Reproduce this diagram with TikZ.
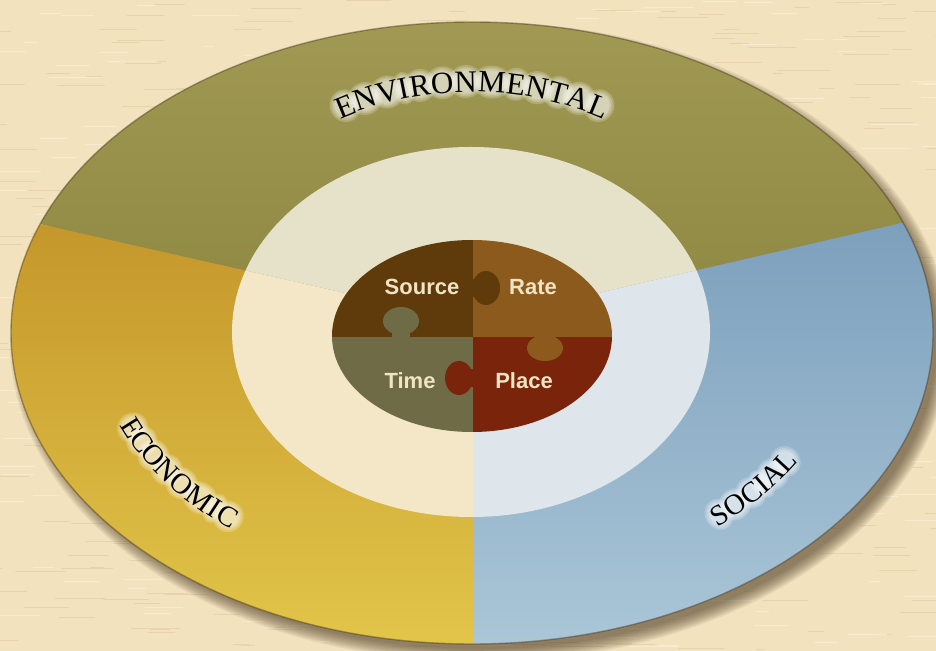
\documentclass[tikz,border=0pt]{standalone}
\usepackage{fontspec}
\setmainfont{Liberation Serif}
\setsansfont{Liberation Sans}

\definecolor{bg}{HTML}{F3E2BE}
\definecolor{bgdark}{HTML}{DCC8A0}
\definecolor{bglight}{HTML}{FBF0D8}
\definecolor{shadowc}{HTML}{3A2A10}
\definecolor{envtop}{HTML}{A29A55}
\definecolor{envbot}{HTML}{8D8842}
\definecolor{ecotop}{HTML}{C4962A}
\definecolor{ecobot}{HTML}{E2C64A}
\definecolor{soctop}{HTML}{7C9FBC}
\definecolor{socbot}{HTML}{ABC7D8}
\definecolor{ringenv}{HTML}{E6E2C9}
\definecolor{ringeco}{HTML}{F3E7C8}
\definecolor{ringsoc}{HTML}{DEE6EC}
\definecolor{srccol}{HTML}{5F3B0B}
\definecolor{ratecol}{HTML}{8C5A1C}
\definecolor{timecol}{HTML}{6F6B47}
\definecolor{placecol}{HTML}{7A250B}
\definecolor{puzcream}{HTML}{F1E4C4}

\tikzset{
  puzzlelabel/.style={font=\sffamily\bfseries\fontsize{11}{13}\selectfont, text=puzcream, inner sep=0pt},
  letter/.style={inner sep=0pt, anchor=base, text=black},
  glowblob/.style={fill=white, opacity=0.2},
}

% #1 cx, #2 cy, #3 rx, #4 ry, #5 centre angle, #6 direction, #7 degrees per em, #8 letter/offset/width list
% font size taken from \lblsize, node names from \lbltag
\newcommand\arclabel[8]{%
  \foreach \ch/\off/\w in {#8}{%
    \pgfmathsetmacro\ang{#5+(#6)*(#7)*(\off)}%
    \pgfmathsetmacro\px{#1+#3*cos(\ang)}%
    \pgfmathsetmacro\py{#2+#4*sin(\ang)}%
    \pgfmathsetmacro\rot{atan2(-(#6)*#4*cos(\ang), -(#6)*#3*sin(\ang))}%
    \pgfmathsetmacro\hw{\w*\lblsize/2}%
    \pgfmathsetmacro\hh{0.34*\lblsize}%
    \begin{scope}[shift={(\px,\py)}, rotate=\rot]
      \foreach \gr in {0.5,1.3,2.1,3.0}{%
        \fill[glowblob] (0pt,\hh pt) ellipse [x radius={\hw pt+\gr pt}, y radius={\hh pt+\gr pt}];
      }%
    \end{scope}
  }%
  \foreach \ch/\off/\w [count=\k] in {#8}{%
    \pgfmathsetmacro\ang{#5+(#6)*(#7)*(\off)}%
    \pgfmathsetmacro\px{#1+#3*cos(\ang)}%
    \pgfmathsetmacro\py{#2+#4*sin(\ang)}%
    \pgfmathsetmacro\rot{atan2(-(#6)*#4*cos(\ang), -(#6)*#3*sin(\ang))}%
    \node[letter, font=\fontsize{\lblsize}{\lblsize}\selectfont, rotate=\rot] (\lbltag-\k) at (\px,\py) {\ch};
  }%
}

\begin{document}
\begin{tikzpicture}[x=0.5pt,y=-0.5pt]
\useasboundingbox (0,0) rectangle (936,651);
% background with texture
\fill[bg] (0,0) rectangle (936,651);
\pgfmathsetseed{7}
\foreach \i in {1,...,480}{
  \pgfmathsetmacro\xx{rnd*960-20}
  \pgfmathsetmacro\yy{rnd*651}
  \pgfmathsetmacro\ll{8+rnd*45}
  \draw[bgdark, opacity=0.5, line width=0.5pt] (\xx,\yy) -- ++(\ll,0);
}
\foreach \i in {1,...,320}{
  \pgfmathsetmacro\xx{rnd*960-20}
  \pgfmathsetmacro\yy{rnd*651}
  \pgfmathsetmacro\ll{8+rnd*45}
  \draw[bglight, opacity=0.7, line width=0.5pt] (\xx,\yy) -- ++(\ll,0);
}
% shadow
\foreach \i in {0,...,8}{
  \fill[shadowc, opacity=0.08] (480,342) ellipse [x radius={470-\i*1.6}, y radius={320-\i*1.6}];
}
% outer sectors
\begin{scope}
  \clip (472,333) ellipse [x radius=461, y radius=311];
  \shade[top color=envtop, bottom color=envbot] (473,322) -- (0,215) -- (0,0) -- (936,0) -- (936,215) -- cycle;
  \shade[top color=ecotop, bottom color=ecobot] (473,322) -- (0,215) -- (0,651) -- (473,651) -- cycle;
  \shade[top color=soctop, bottom color=socbot] (473,322) -- (473,651) -- (936,651) -- (936,215) -- cycle;
\end{scope}
\draw[shadowc, opacity=0.4, line width=0.7pt] (472,333) ellipse [x radius=461, y radius=311];
% inner ring
\begin{scope}
  \clip (471,332) ellipse [x radius=239, y radius=185];
  \fill[ringenv] (473,322) -- (0,215) -- (0,0) -- (936,0) -- (936,215) -- cycle;
  \fill[ringeco] (473,322) -- (0,215) -- (0,651) -- (473,651) -- cycle;
  \fill[ringsoc] (473,322) -- (473,651) -- (936,651) -- (936,215) -- cycle;
\end{scope}
% puzzle
\begin{scope}
  \clip (472,336) ellipse [x radius=140, y radius=96];
  \fill[srccol] (300,200) rectangle (473,337);
  \fill[ratecol] (473,200) rectangle (650,337);
  \fill[timecol] (300,337) rectangle (473,460);
  \fill[placecol] (473,337) rectangle (650,460);
  % knobs
  \fill[srccol] (486,288) ellipse [x radius=14, y radius=17];
  \fill[srccol] (470,279) rectangle (486,297);
  \fill[timecol] (401,321) ellipse [x radius=18, y radius=14];
  \fill[timecol] (392,321) rectangle (410,338);
  \fill[ratecol] (545,348) ellipse [x radius=18, y radius=13];
  \fill[ratecol] (536,335) rectangle (554,348);
  \fill[placecol] (459,378) ellipse [x radius=14, y radius=17];
  \fill[placecol] (459,369) rectangle (475,387);
\end{scope}
\node[puzzlelabel] (source) at (422,287) {Source};
\node[puzzlelabel] (rate) at (533,287) {Rate};
\node[puzzlelabel] (time) at (410,381) {Time};
\node[puzzlelabel] (place) at (524,381) {Place};
% arc labels
\def\lblsize{15.5}\def\lbltag{env}
\arclabel{472}{333}{285}{241}{270}{1}{6.343}{E/-4.027/0.611, N/-3.3605/0.722, V/-2.6385/0.722, I/-2.111/0.333, R/-1.611/0.667, O/-0.9165/0.722, N/-0.1945/0.722, M/0.611/0.889, E/1.361/0.611, N/2.0275/0.722, T/2.694/0.611, A/3.3605/0.722, L/4.027/0.611}
\def\lblsize{14.5}\def\lbltag{eco}
\arclabel{472}{333}{378}{255}{144}{-1}{5.484}{E/-2.361/0.611, C/-1.722/0.667, O/-1.0275/0.722, N/-0.3055/0.722, O/0.4165/0.722, M/1.222/0.889, I/1.833/0.333, C/2.333/0.667}
\def\lbltag{soc}
\arclabel{472}{333}{378}{255}{40}{-1}{5.326}{S/-1.5275/0.556, O/-0.8885/0.722, C/-0.194/0.667, I/0.306/0.333, A/0.8335/0.722, L/1.5/0.611}
\end{tikzpicture}
\end{document}
